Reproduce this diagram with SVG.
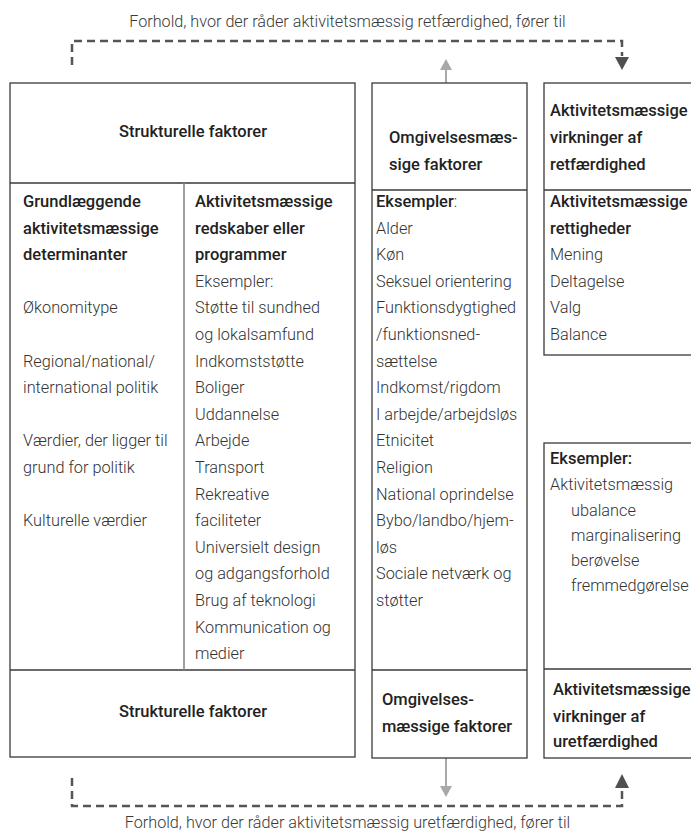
<svg xmlns="http://www.w3.org/2000/svg" width="691" height="835" viewBox="0 0 691 835">
<style>
text{font-family:Roboto,"Liberation Sans",sans-serif;font-size:16.3px;font-weight:300;fill:#333}
.h{font-size:16.5px;font-weight:500;fill:#222}
.cap{font-size:16.2px;fill:#3a3a3a}
.box{fill:#fff;stroke:#3a3a3a;stroke-width:1.3}
.div{stroke:#3a3a3a;stroke-width:1.3}
.vdiv{stroke:#8a8a8a;stroke-width:1.6}
.dash{fill:none;stroke:#555;stroke-width:2.5;stroke-dasharray:8 5}
.gl{stroke:#a8a8a8;stroke-width:2}
.ga{fill:#a8a8a8}
.da{fill:#505050}
</style>
<rect width="691" height="835" fill="#fff"/>
<g id="connectors">
<path class="dash" d="M72,65 V41 H622 V56"/>
<polygon class="da" points="615,57 629,57 622,70"/>
<path class="dash" d="M72,778 V806 H622 V789"/>
<polygon class="da" points="615,788 629,788 622,774"/>
<line class="gl" x1="446" y1="83" x2="446" y2="69"/>
<polygon class="ga" points="440,70 452,70 446,59"/>
<line class="gl" x1="446" y1="758" x2="446" y2="787"/>
<polygon class="ga" points="440,786 452,786 446,797"/>
</g>
<g id="captions">
<text class="cap" x="347.5" y="27" text-anchor="middle">Forhold, hvor der råder aktivitetsmæssig retfærdighed, fører til</text>
<text class="cap" x="347.5" y="828" text-anchor="middle">Forhold, hvor der råder aktivitetsmæssig uretfærdighed, fører til</text>
</g>
<g id="structural">
<rect class="box" x="10" y="83" width="345" height="674"/>
<line class="div" x1="10" y1="183" x2="355" y2="183"/>
<line class="div" x1="10" y1="670" x2="355" y2="670"/>
<line class="vdiv" x1="184" y1="183" x2="184" y2="670"/>
<text class="h" x="193" y="137" text-anchor="middle">Strukturelle faktorer</text>
<text class="h" x="193" y="717" text-anchor="middle">Strukturelle faktorer</text>
<text class="h" x="23" y="207">Grundlæggende</text>
<text class="h" x="23" y="233.6">aktivitetsmæssige</text>
<text class="h" x="23" y="260.2">determinanter</text>
<text x="23" y="313.4">Økonomitype</text>
<text x="23" y="366.6">Regional/national/</text>
<text x="23" y="393.2">international politik</text>
<text x="23" y="446.4">Værdier, der ligger til</text>
<text x="23" y="473">grund for politik</text>
<text x="23" y="526.2">Kulturelle værdier</text>
<text class="h" x="195" y="207">Aktivitetsmæssige</text>
<text class="h" x="195" y="233.6">redskaber eller</text>
<text class="h" x="195" y="260.2">programmer</text>
<text x="195" y="286.8">Eksempler:</text>
<text x="195" y="313.4">Støtte til sundhed</text>
<text x="195" y="340">og lokalsamfund</text>
<text x="195" y="366.6">Indkomststøtte</text>
<text x="195" y="393.2">Boliger</text>
<text x="195" y="419.8">Uddannelse</text>
<text x="195" y="446.4">Arbejde</text>
<text x="195" y="473">Transport</text>
<text x="195" y="499.6">Rekreative</text>
<text x="195" y="526.2">faciliteter</text>
<text x="195" y="552.8">Universielt design</text>
<text x="195" y="579.4">og adgangsforhold</text>
<text x="195" y="606">Brug af teknologi</text>
<text x="195" y="632.6">Kommunication og</text>
<text x="195" y="659.2">medier</text>
</g>
<g id="environmental">
<rect class="box" x="372" y="83" width="155" height="675"/>
<line class="div" x1="372" y1="190" x2="527" y2="190"/>
<line class="div" x1="372" y1="670" x2="527" y2="670"/>
<text class="h" x="389" y="143">Omgivelsesmæs-</text>
<text class="h" x="389" y="170">sige faktorer</text>
<text x="376" y="207"><tspan class="h">Eksempler</tspan>:</text>
<text x="376" y="233.6">Alder</text>
<text x="376" y="260.2">Køn</text>
<text x="376" y="286.8">Seksuel orientering</text>
<text x="376" y="313.4">Funktionsdygtighed</text>
<text x="376" y="340">/funktionsned-</text>
<text x="376" y="366.6">sættelse</text>
<text x="376" y="393.2">Indkomst/rigdom</text>
<text x="376" y="419.8">I arbejde/arbejdsløs</text>
<text x="376" y="446.4">Etnicitet</text>
<text x="376" y="473">Religion</text>
<text x="376" y="499.6">National oprindelse</text>
<text x="376" y="526.2">Bybo/landbo/hjem-</text>
<text x="376" y="552.8">løs</text>
<text x="376" y="579.4">Sociale netværk og</text>
<text x="376" y="606">støtter</text>
<text class="h" x="382" y="705">Omgivelses-</text>
<text class="h" x="382" y="732">mæssige faktorer</text>
</g>
<g id="just-outcomes">
<rect class="box" x="544" y="83" width="170" height="272"/>
<line class="div" x1="544" y1="190" x2="714" y2="190"/>
<text class="h" x="550" y="116">Aktivitetsmæssige</text>
<text class="h" x="550" y="143">virkninger af</text>
<text class="h" x="550" y="170">retfærdighed</text>
<text class="h" x="550" y="207">Aktivitetsmæssige</text>
<text class="h" x="550" y="233.6">rettigheder</text>
<text x="550" y="260.2">Mening</text>
<text x="550" y="286.8">Deltagelse</text>
<text x="550" y="313.4">Valg</text>
<text x="550" y="340">Balance</text>
</g>
<g id="unjust-outcomes">
<rect class="box" x="544" y="443" width="170" height="315"/>
<line class="div" x1="544" y1="669" x2="714" y2="669"/>
<text class="h" x="550" y="464">Eksempler:</text>
<text x="550" y="490">Aktivitetsmæssig</text>
<text x="571" y="516">ubalance</text>
<text x="571" y="541">marginalisering</text>
<text x="571" y="566">berøvelse</text>
<text x="571" y="591">fremmedgørelse</text>
<text class="h" x="553" y="695">Aktivitetsmæssige</text>
<text class="h" x="553" y="722">virkninger af</text>
<text class="h" x="553" y="747">uretfærdighed</text>
</g>
</svg>
